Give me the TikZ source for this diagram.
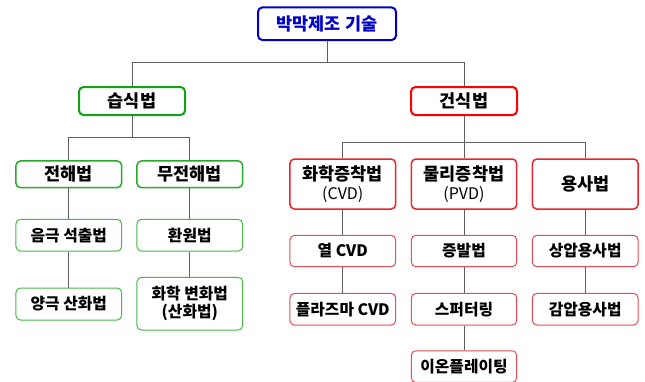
\documentclass[tikz,border=0pt]{standalone}
\usepackage{fontspec}
\setmainfont{Noto Sans CJK KR}
\definecolor{topblue}{RGB}{0,0,200}
\definecolor{wetA}{RGB}{20,160,20}
\definecolor{wetB}{RGB}{40,170,40}
\definecolor{wetC}{RGB}{70,185,70}
\definecolor{dryA}{RGB}{255,0,0}
\definecolor{dryB}{RGB}{235,35,45}
\definecolor{dryC}{RGB}{235,75,85}
\definecolor{conngray}{RGB}{95,95,95}
\tikzset{
  box/.style={rounded corners=4.5pt, inner sep=0pt, align=center, text=black},
  bigtxt/.style={font=\fontsize{17.5}{20}\selectfont\bfseries},
  smalltxt/.style={font=\fontsize{15.8}{17.6}\selectfont\bfseries},
  topbox/.style={box, bigtxt, draw=topblue, line width=2pt, text=topblue},
  wetone/.style={box, bigtxt, draw=wetA, line width=2pt},
  wettwo/.style={box, bigtxt, draw=wetB, line width=1.5pt},
  wetthree/.style={box, smalltxt, draw=wetC, line width=1pt},
  dryone/.style={box, bigtxt, draw=dryA, line width=2pt},
  drytwo/.style={box, bigtxt, draw=dryB, line width=1.5pt},
  drythree/.style={box, smalltxt, draw=dryC, line width=1pt},
  conn/.style={draw=conngray, line width=1pt}
}
\begin{document}
\begin{tikzpicture}[x=1pt,y=-1pt]
\useasboundingbox (0,0) rectangle (645,381);
% top
\node[topbox, minimum width=138pt, minimum height=32.7pt] (top) at (327,23.7) {박막제조 기술};
% level 1
\node[wetone, minimum width=106pt, minimum height=28pt] (wet) at (132,101) {습식법};
\node[dryone, minimum width=106pt, minimum height=28pt] (dry) at (464,101) {건식법};
% wet level 2
\node[wettwo, minimum width=105.7pt, minimum height=26.7pt] (jh) at (68.8,174.3) {전해법};
\node[wettwo, minimum width=105.7pt, minimum height=26.7pt] (mjh) at (189.8,174.3) {무전해법};
% wet level 3
\node[wetthree, minimum width=105.7pt, minimum height=31.7pt] (eum) at (68.8,235.2) {음극 석출법};
\node[wetthree, minimum width=105.7pt, minimum height=31.7pt] (hwan) at (189.8,235.2) {환원법};
\node[wetthree, minimum width=105.7pt, minimum height=32pt] (yang) at (68.8,304) {양극 산화법};
\node[wetthree, minimum width=105.7pt, minimum height=52.7pt] (hwa) at (189.8,303.7) {화학 변화법\\(산화법)};
% dry level 2
\node[drytwo, minimum width=105.7pt, minimum height=50pt] (cvd) at (342.8,184) {화학증착법\\[-0.5pt]{\mdseries\fontsize{16}{18}\selectfont (CVD)}};
\node[drytwo, minimum width=105.4pt, minimum height=50pt] (pvd) at (464,184) {물리증착법\\[-0.5pt]{\mdseries\fontsize{16}{18}\selectfont (PVD)}};
\node[drytwo, minimum width=105.7pt, minimum height=50pt] (yong) at (585.2,184) {용사법};
% dry level 3
\node[drythree, minimum width=105.7pt, minimum height=31.4pt] (yeol) at (342.8,251) {열 CVD};
\node[drythree, minimum width=105.4pt, minimum height=31.4pt] (jeung) at (464,251) {증발법};
\node[drythree, minimum width=105.7pt, minimum height=31.4pt] (sang) at (585.2,251) {상압용사법};
\node[drythree, minimum width=105.7pt, minimum height=31.7pt] (plasma) at (342.8,309.2) {플라즈마 CVD};
\node[drythree, minimum width=105.4pt, minimum height=31.7pt] (sputter) at (464,309.2) {스퍼터링};
\node[drythree, minimum width=105.7pt, minimum height=31.7pt] (gam) at (585.2,309.2) {감압용사법};
\node[drythree, minimum width=105.4pt, minimum height=31.7pt] (ion) at (464,366.6) {이온플레이팅};
% bars
\coordinate (b1) at (0,62.7);
\coordinate (b2) at (0,137.5);
\coordinate (b3) at (0,142.3);
% connectors
\draw[conn] (top.south) -- (top.south |- b1) -| (wet.north);
\draw[conn] (top.south |- b1) -| (dry.north);
\draw[conn] (wet.south) -- (wet.south |- b2) -| (jh.north);
\draw[conn] (wet.south |- b2) -| (mjh.north);
\draw[conn] (dry.south) -- (pvd.north);
\draw[conn] (dry.south |- b3) -| (cvd.north);
\draw[conn] (dry.south |- b3) -| (yong.north);
\draw[conn] (jh.south) -- (eum.north);
\draw[conn] (eum.south) -- (yang.north);
\draw[conn] (mjh.south) -- (hwan.north);
\draw[conn] (hwan.south) -- (hwa.north);
\draw[conn] (cvd.south) -- (yeol.north);
\draw[conn] (yeol.south) -- (plasma.north);
\draw[conn] (pvd.south) -- (jeung.north);
\draw[conn] (jeung.south) -- (sputter.north);
\draw[conn] (sputter.south) -- (ion.north);
\draw[conn] (yong.south) -- (sang.north);
\draw[conn] (sang.south) -- (gam.north);
\end{tikzpicture}
\end{document}
